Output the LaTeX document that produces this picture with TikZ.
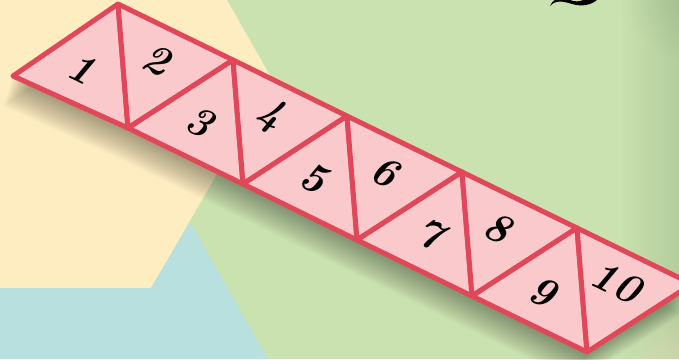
\documentclass[tikz,border=0pt]{standalone}
\usetikzlibrary{fadings}
\definecolor{bgyellow}{HTML}{FDEDC1}
\definecolor{bgblue}{HTML}{B8E0DE}
\definecolor{bggreen}{HTML}{CAE2B0}
\definecolor{tripink}{HTML}{F9C9CB}
\definecolor{trired}{HTML}{E0485A}
\definecolor{darkgreen}{HTML}{5E7A50}
\tikzfading[name=fadetoright, left color=transparent!100, right color=transparent!0]
\tikzfading[name=fadecorner, inner color=transparent!0, outer color=transparent!100]
\tikzset{
  tri/.style={fill=tripink, draw=trired, line width=5pt, line join=round},
  num/.style={font=\fontsize{42}{44}\selectfont\bfseries\itshape, rotate=-26, inner sep=0pt},
  shadowlayer/.style={fill=black, opacity=0.02}
}
\begin{document}
\begin{tikzpicture}[x=1pt,y=-1pt]
\useasboundingbox (0,0) rectangle (679,359);
\begin{scope}
\clip (0,0) rectangle (679,359);
% background
\fill[bggreen] (0,0) rectangle (679,359);
\fill[bgyellow] (0,0) -- (227,0) -- (272,79) -- (151,288) -- (0,288) -- cycle;
\fill[bgblue] (0,288) -- (151,288) -- (190,222) -- (268,359) -- (0,359) -- cycle;
% pale yellow at bottom right
\fill[bgyellow!80!white, path fading=fadecorner] (700,380) circle (75);
% darkening at the right edge
\fill[darkgreen, opacity=0.2, path fading=fadetoright] (620,0) rectangle (679,359);
\fill[darkgreen, opacity=0.2, path fading=fadecorner] (690,-10) circle (70);
% glyph fragment top right
\fill[black] (550,6) .. controls (555,0) and (563,1) .. (572,4)
  .. controls (582,7) and (592,5) .. (598,-1) -- (585,-1)
  .. controls (580,2) and (575,2) .. (570,0) -- (556,-1)
  .. controls (553,1) and (551,3) .. (550,6) -- cycle;

% vertices
\coordinate (L) at (13,76);
\coordinate (T0) at (118,4);
\coordinate (B0) at (128,128);
\coordinate (T1) at (233,60);
\coordinate (B1) at (243,184);
\coordinate (T2) at (347,116);
\coordinate (B2) at (357,240);
\coordinate (T3) at (462,172);
\coordinate (B3) at (472,296);
\coordinate (T4) at (577,228);
\coordinate (B4) at (587,352);
\coordinate (R) at (692,284);

% soft shadow below the strip
\foreach \i in {1,...,20} {
  \fill[shadowlayer] ([shift={(-0.5*\i,1.5*\i)}]L) -- ([shift={(-0.5*\i,1.5*\i)}]T0)
    -- ([shift={(-0.5*\i,1.5*\i)}]R) -- ([shift={(-0.5*\i,1.5*\i)}]B4)
    -- ([shift={(-0.5*\i,1.5*\i)}]B0) -- cycle;
}

% triangles
\draw[tri] (L) -- (T0) -- (B0) -- cycle;
\draw[tri] (T0) -- (T1) -- (B0) -- cycle;
\draw[tri] (B0) -- (T1) -- (B1) -- cycle;
\draw[tri] (T1) -- (T2) -- (B1) -- cycle;
\draw[tri] (B1) -- (T2) -- (B2) -- cycle;
\draw[tri] (T2) -- (T3) -- (B2) -- cycle;
\draw[tri] (B2) -- (T3) -- (B3) -- cycle;
\draw[tri] (T3) -- (T4) -- (B3) -- cycle;
\draw[tri] (B3) -- (T4) -- (B4) -- cycle;
\draw[tri] (T4) -- (R) -- (B4) -- cycle;

% labels
\node[num] (n1) at (82,68) {1};
\node[num] (n2) at (157,60) {2};
\node[num] (n3) at (200,122) {3};
\node[num] (n4) at (270,115) {4};
\node[num] (n5) at (314,178) {5};
\node[num] (n6) at (385,172) {6};
\node[num] (n7) at (430,234) {7};
\node[num] (n8) at (498,228) {8};
\node[num] (n9) at (543,292) {9};
\node[num] (n10) at (616,282) {10};
\end{scope}
\end{tikzpicture}
\end{document}
